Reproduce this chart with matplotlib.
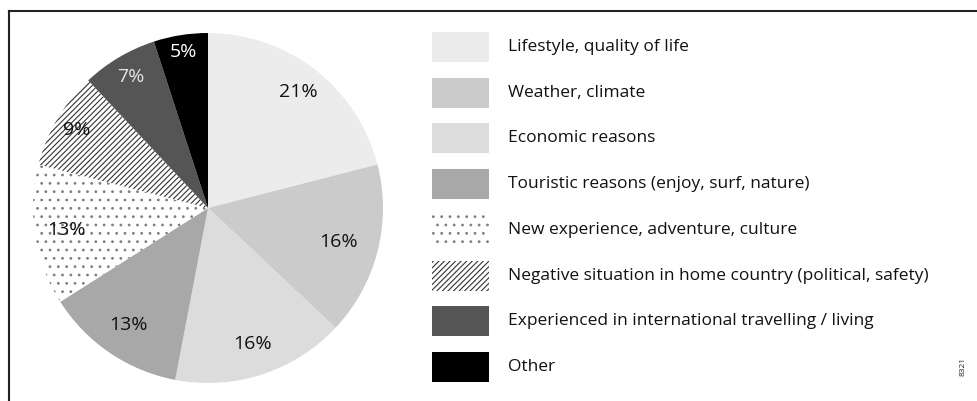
import numpy as np
import matplotlib
matplotlib.use("Agg")
import matplotlib.pyplot as plt
from matplotlib.patches import Rectangle
from matplotlib.lines import Line2D

# reasons for moving, share of answers (%)
reasons = [
	"Lifestyle, quality of life",
	"Weather, climate",
	"Economic reasons",
	"Touristic reasons (enjoy, surf, nature)",
	"New experience, adventure, culture",
	"Negative situation in home country (political, safety)",
	"Experienced in international travelling / living",
	"Other",
]
shares = [21, 16, 16, 13, 13, 9, 7, 5]

# styling per wedge
fills = ["#ececec", "#cbcbcb", "#dcdcdc", "#a8a8a8", "#ffffff", "#ffffff", "#555555", "#000000"]
hatches = [None, None, None, None, "..", "//////", None, None]
hatch_colors = ["#333333"] * 4 + ["#808080", "#333333", "#333333", "#333333"]
label_colors = ["#111111"] * 6 + ["#e6e6e6", "#ffffff"]
label_dist = [0.84, 0.77, 0.82, 0.81, 0.82, 0.87, 0.87, 0.90]

W, H = 977, 401


def main():
	plt.rcParams["font.family"] = ["Open Sans", "DejaVu Sans"]
	plt.rcParams["hatch.linewidth"] = 0.8

	fig = plt.figure(figsize=(W / 100, H / 100), dpi=100)

	# pie, centre ~ (208, 208) px, radius ~175 px
	cx, cy, r = 208, 208, 175
	ax = fig.add_axes([(cx - r) / W, (H - cy - r) / H, 2 * r / W, 2 * r / H])
	wedges, _ = ax.pie(shares, startangle=90, counterclock=False,
		colors=fills, wedgeprops=dict(linewidth=0))
	for w, h, hc in zip(wedges, hatches, hatch_colors):
		w.set_edgecolor(hc)
		if h:
			w.set_hatch(h)
	ax.set_xlim(-1, 1)
	ax.set_ylim(-1, 1)
	ax.set_aspect("auto")

	for w, v, d, c in zip(wedges, shares, label_dist, label_colors):
		mid = np.deg2rad((w.theta1 + w.theta2) / 2)
		ax.text(d * np.cos(mid), d * np.sin(mid), "%d%%" % v,
			ha="center", va="center", fontsize=14, color=c)

	# overlay in pixel coordinates for frame and legend
	ov = fig.add_axes([0, 0, 1, 1], zorder=-1)
	ov.set_xlim(0, W)
	ov.set_ylim(H, 0)
	ov.axis("off")

	ov.add_line(Line2D([9, W], [11, 11], color="#222222", lw=1.5))
	ov.add_line(Line2D([9, 9], [11, H], color="#222222", lw=1.5))

	top = 32
	step = 45.7
	for i, (lab, f, h, hc) in enumerate(zip(reasons, fills, hatches, hatch_colors)):
		y = top + i * step
		ov.add_patch(Rectangle((432, y), 57, 30, facecolor=f,
			edgecolor=hc, linewidth=0, hatch=h))
		ov.text(508, y + 15, lab, ha="left", va="center", fontsize=12.5, color="#111111")

	ov.text(963, 366, "8321", rotation=90, ha="center", va="center", fontsize=6, color="#222222")

	fig.savefig("out.png", dpi=100)


if __name__ == "__main__":
	main()
